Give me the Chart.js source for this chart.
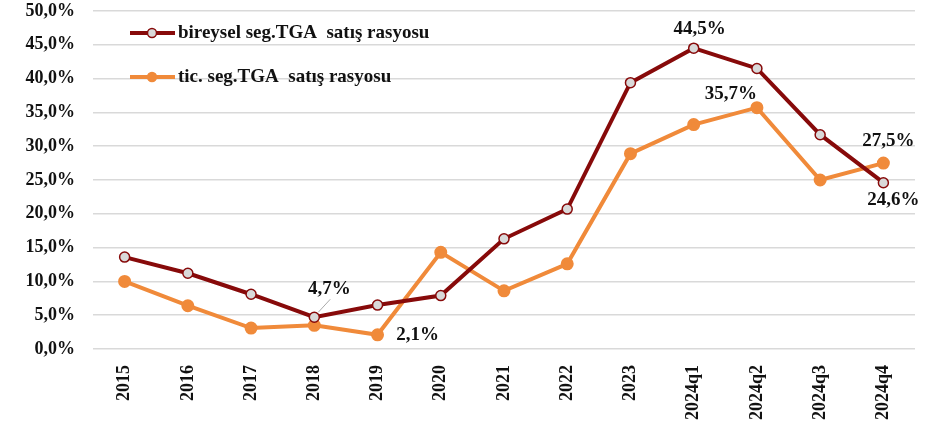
<!DOCTYPE html>
<html>
<head>
    <title>TGA satış rasyosu</title>
    <script src="https://cdn.jsdelivr.net/npm/chart.js"></script>
    <style>
        body { margin: 0; background: #fff; }
        #wrap { width: 936px; height: 426px; }
    </style>
</head>
<body>
    <div id="wrap"><canvas id="tgaChart" width="936" height="426"></canvas></div>

    <script>
        // Veriler
        const categories = ['2015', '2016', '2017', '2018', '2019', '2020', '2021', '2022', '2023', '2024q1', '2024q2', '2024q3', '2024q4'];
        const bireyselLabel = 'bireysel seg.TGA  satış rasyosu';
        const ticLabel = 'tic. seg.TGA  satış rasyosu';
        const bireyselValues = [13.6, 11.2, 8.1, 4.7, 6.5, 7.9, 16.3, 20.7, 39.4, 44.5, 41.5, 31.7, 24.6];
        const ticValues = [10.0, 6.4, 3.1, 3.5, 2.1, 14.3, 8.6, 12.6, 28.9, 33.2, 35.7, 25.0, 27.5];
        const yTicks = [0, 5, 10, 15, 20, 25, 30, 35, 40, 45, 50];

        const darkRed = '#870a0a';
        const orange = '#f08a3a';
        const serif = "'Liberation Serif', 'Times New Roman', serif";

        function fmt(v) {
            return v.toFixed(1).replace('.', ',') + '%';
        }

        // Etiketler: [dataset, index, dx, dy, leader]
        const pointLabels = [
            [0, 3, 15, -28, true],
            [1, 4, 40, 0, false],
            [0, 9, 6, -19, false],
            [1, 10, -26, -14, false],
            [1, 12, 5, -22, false],
            [0, 12, 10, 17, false]
        ];

        const labelPlugin = {
            id: 'labels',
            afterDatasetsDraw(chart) {
                const c = chart.ctx;
                c.save();
                c.font = 'bold 19px ' + serif;
                c.fillStyle = '#111';
                c.textAlign = 'center';
                c.textBaseline = 'middle';
                pointLabels.forEach(([ds, i, dx, dy, leader]) => {
                    const pt = chart.getDatasetMeta(ds).data[i];
                    const v = chart.data.datasets[ds].data[i];
                    if (leader) {
                        c.strokeStyle = '#aaa';
                        c.lineWidth = 1;
                        c.beginPath();
                        c.moveTo(pt.x + 4, pt.y - 5);
                        c.lineTo(pt.x + 16, pt.y - 18);
                        c.stroke();
                    }
                    c.fillText(fmt(v), pt.x + dx, pt.y + dy);
                });

                // legend inside the plot
                const a = chart.chartArea;
                const rows = [
                    [bireyselLabel, darkRed, '#d9d9d9', a.top + 22],
                    [ticLabel, orange, orange, a.top + 66]
                ];
                c.textAlign = 'left';
                c.font = 'bold 19px ' + serif;
                rows.forEach(([txt, col, fill, y]) => {
                    c.strokeStyle = col;
                    c.lineWidth = 4;
                    c.beginPath();
                    c.moveTo(a.left + 37, y);
                    c.lineTo(a.left + 82, y);
                    c.stroke();
                    c.beginPath();
                    c.arc(a.left + 59, y, 4.5, 0, Math.PI * 2);
                    c.fillStyle = fill;
                    c.fill();
                    c.lineWidth = 1.5;
                    c.stroke();
                    c.fillStyle = '#111';
                    c.fillText(txt, a.left + 85, y);
                });
                c.restore();
            }
        };

        const ctx = document.getElementById('tgaChart').getContext('2d');
        const chart = new Chart(ctx, {
            type: 'line',
            data: {
                labels: categories,
                datasets: [
                    {
                        label: bireyselLabel,
                        data: bireyselValues,
                        borderColor: darkRed,
                        backgroundColor: '#d9d9d9',
                        borderWidth: 4,
                        pointRadius: 5,
                        pointBorderWidth: 1.5,
                        pointBackgroundColor: '#d9d9d9',
                        pointBorderColor: darkRed,
                        tension: 0
                    },
                    {
                        label: ticLabel,
                        data: ticValues,
                        borderColor: orange,
                        backgroundColor: orange,
                        borderWidth: 4,
                        pointRadius: 4.5,
                        pointBackgroundColor: orange,
                        pointBorderColor: orange,
                        tension: 0
                    }
                ]
            },
            options: {
                responsive: false,
                animation: false,
                layout: { padding: { top: 0, right: 21, left: 0, bottom: 0 } },
                plugins: {
                    legend: { display: false },
                    tooltip: { enabled: false }
                },
                scales: {
                    x: {
                        offset: true,
                        grid: { display: false },
                        border: { display: false },
                        ticks: {
                            color: '#111',
                            font: { family: serif, size: 18, weight: 'bold' },
                            maxRotation: 90,
                            minRotation: 90,
                            padding: 8
                        },
                        afterFit(scale) { scale.height = 77; }
                    },
                    y: {
                        min: 0,
                        max: 50,
                        afterBuildTicks(scale) {
                            scale.ticks = yTicks.map(v => ({ value: v }));
                        },
                        grid: { color: '#d9d9d9', lineWidth: 1.5, drawTicks: false },
                        border: { display: false },
                        ticks: {
                            color: '#111',
                            font: { family: serif, size: 18, weight: 'bold' },
                            padding: 18,
                            callback: v => fmt(v)
                        },
                        afterFit(scale) {
                            scale.width = 93;
                            scale.paddingTop = 11;
                        }
                    }
                }
            },
            plugins: [labelPlugin]
        });
    </script>
</body>
</html>
